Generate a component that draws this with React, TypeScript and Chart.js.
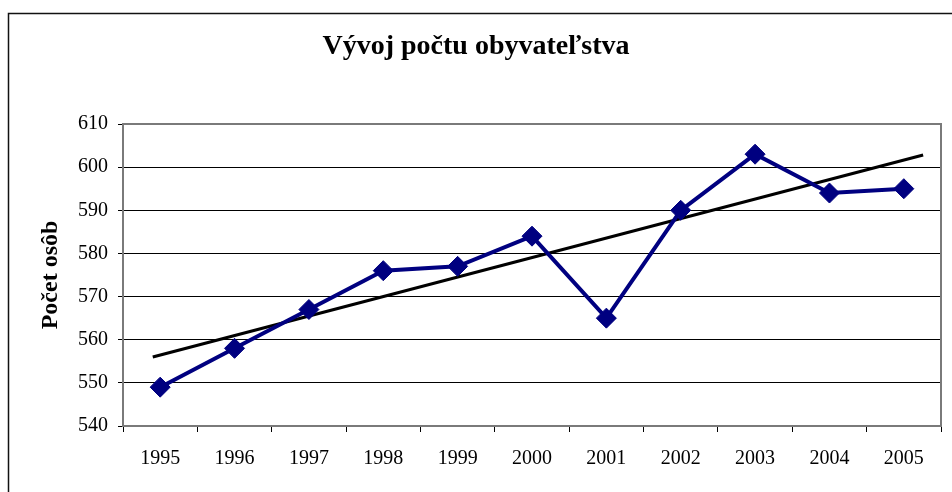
import React, { useEffect, useRef } from "react";
import { Chart, registerables } from "chart.js";

Chart.register(...registerables);

const years: string[] = ["1995", "1996", "1997", "1998", "1999", "2000", "2001", "2002", "2003", "2004", "2005"];
const population: number[] = [549, 558, 567, 576, 577, 584, 565, 590, 603, 594, 595];
const yMin = 540;
const yMax = 610;
const yStep = 10;
// trendline endpoints (category index, value)
const trendX: number[] = [-0.1, 10.26];
const trendY: number[] = [556.0, 602.8];

const titleText = "Vývoj počtu obyvateľstva";
const yTitleText = "Počet osôb";

const SERIF = "'Liberation Serif', 'Times New Roman', serif";

const framePlugin = {
  id: "frame",
  beforeDraw(chart: any) {
    const ctx = chart.ctx;
    ctx.save();
    ctx.fillStyle = "#ffffff";
    ctx.fillRect(0, 0, chart.width, chart.height);
    ctx.strokeStyle = "#111";
    ctx.lineWidth = 1.5;
    ctx.strokeRect(8.5, 13.5, chart.width + 20, chart.height + 20);
    ctx.restore();
  },
  beforeDatasetsDraw(chart: any) {
    const { ctx, chartArea } = chart;
    ctx.save();
    ctx.strokeStyle = "#7a7a7a";
    ctx.lineWidth = 2;
    ctx.strokeRect(chartArea.left, chartArea.top, chartArea.right - chartArea.left, chartArea.bottom - chartArea.top);
    ctx.restore();
  },
};

export default function App() {
  const canvasRef = useRef<HTMLCanvasElement | null>(null);

  useEffect(() => {
    if (!canvasRef.current) return;
    const trendData = trendX.map((x, i) => ({ x, y: trendY[i] }));

    const chart = new Chart(canvasRef.current, {
      type: "line",
      data: {
        labels: years,
        datasets: [
          {
            label: "Trend",
            data: trendData as any,
            xAxisID: "x2",
            borderColor: "#000000",
            borderWidth: 3,
            pointRadius: 0,
            fill: false,
            tension: 0,
            order: 2,
          },
          {
            label: "Počet osôb",
            data: population,
            xAxisID: "x",
            borderColor: "#000080",
            backgroundColor: "#000080",
            borderWidth: 4,
            pointStyle: "rectRot",
            pointRadius: 10,
            pointBorderWidth: 1,
            pointBackgroundColor: "#000080",
            pointBorderColor: "#000080",
            fill: false,
            tension: 0,
            order: 1,
          },
        ],
      },
      options: {
        animation: false,
        responsive: true,
        maintainAspectRatio: false,
        layout: { padding: { left: 6, right: 6, top: 0, bottom: 0 } },
        plugins: {
          legend: { display: false },
          tooltip: { enabled: false },
          title: {
            display: true,
            text: titleText,
            color: "#000",
            font: { family: SERIF, size: 28, weight: "bold", lineHeight: 1.2 },
            padding: { top: 30, bottom: 60.4 },
          },
        },
        scales: {
          x: {
            type: "category",
            offset: true,
            grid: {
              display: true,
              drawOnChartArea: false,
              drawTicks: true,
              tickLength: 6,
              tickColor: "#000",
              offset: true,
            },
            border: { display: false },
            ticks: {
              color: "#000",
              font: { family: SERIF, size: 20 },
              padding: 15,
              maxRotation: 0,
              autoSkip: false,
            },
            afterFit(scale: any) {
              scale.height = 66;
            },
          },
          x2: {
            type: "linear",
            display: false,
            min: -0.5,
            max: years.length - 0.5,
          },
          y: {
            type: "linear",
            min: yMin,
            max: yMax,
            ticks: {
              stepSize: yStep,
              color: "#000",
              font: { family: SERIF, size: 20 },
              padding: 10,
            },
            grid: {
              color: "#000",
              lineWidth: 1,
              drawTicks: true,
              tickLength: 5,
              tickColor: "#000",
            },
            border: { display: false },
            title: {
              display: true,
              text: yTitleText,
              color: "#000",
              font: { family: SERIF, size: 24, weight: "bold", lineHeight: 1.2 },
              padding: { top: 30, bottom: 0 },
            },
            afterFit(scale: any) {
              scale.width = 117;
            },
          },
        },
      },
      plugins: [framePlugin],
    });

    return () => chart.destroy();
  }, []);

  return (
    <div style={{ position: "fixed", left: 0, top: 0, width: 952, height: 492, background: "#fff" }}>
      <canvas ref={canvasRef} />
    </div>
  );
}
